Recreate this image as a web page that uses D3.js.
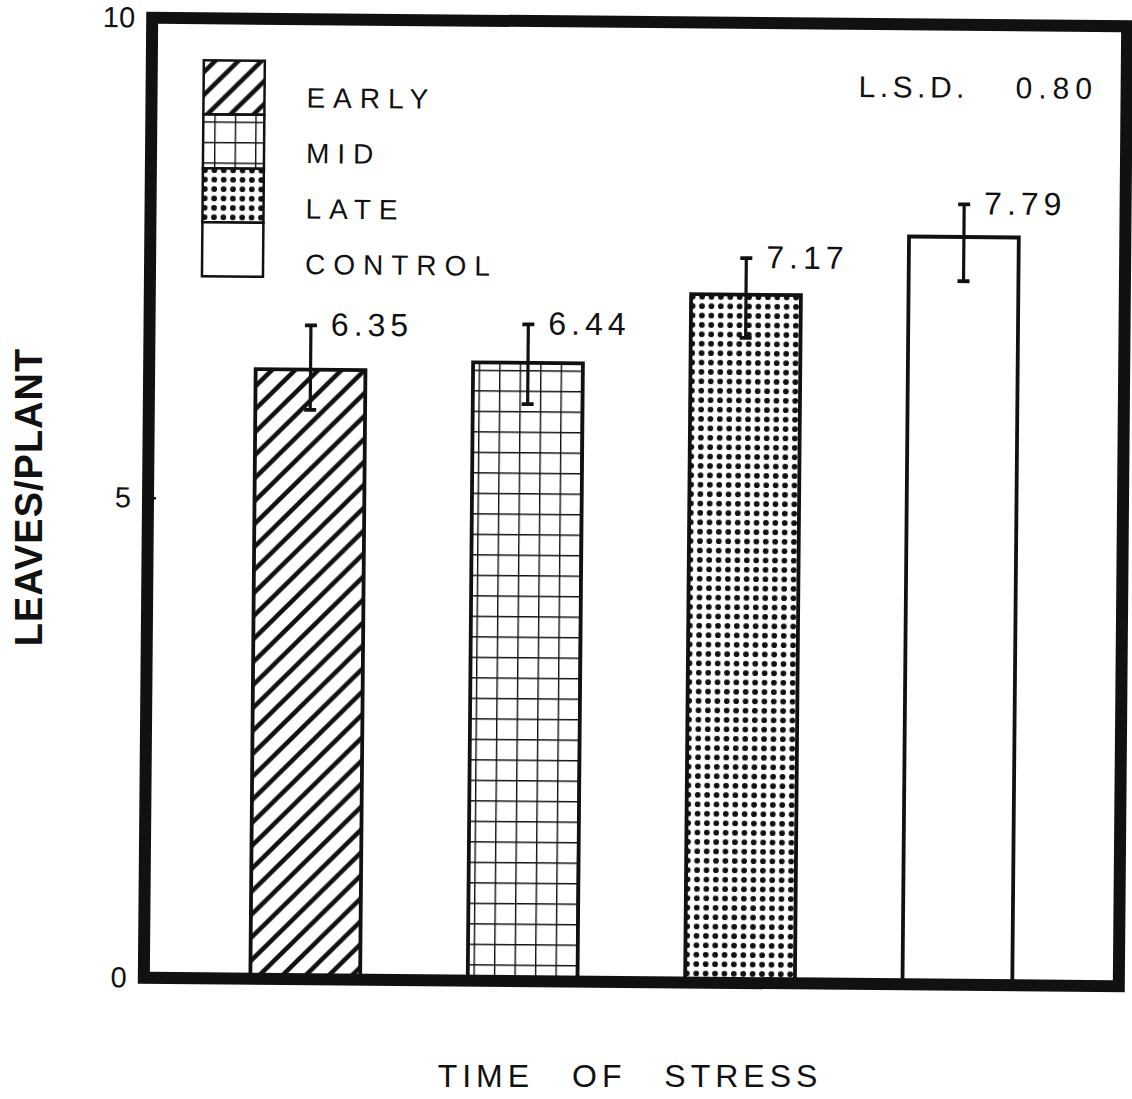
<!DOCTYPE html>
<html>
<head>
<meta charset="utf-8">
<script src="https://cdn.jsdelivr.net/npm/d3@7"></script>
<style>
  body { margin: 0; background: #fff; }
  text { font-family: "Liberation Sans", Arial, sans-serif; fill: #111; }
</style>
</head>
<body>
<svg id="chart"></svg>
<script>
// data
const categories = ["EARLY", "MID", "LATE", "CONTROL"];
const values = [6.35, 6.44, 7.17, 7.79];
const errHigh = [6.81, 6.84, 7.55, 8.13];
const errLow = [5.93, 6.01, 6.72, 7.33];
const valueLabels = ["6.35", "6.44", "7.17", "7.79"];
const yTicks = [0, 5, 10];
const lsdText = ["L.S.D.", "0.80"];

const fills = ["url(#hatch)", "url(#grid)", "url(#dots)", "#fff"];
const ink = "#111";

const W = 1132, H = 1099;
const frame = { x0: 148, x1: 1123, y0: 22, y1: 982 };
const tilt = 0.5; // the scan is slightly rotated

const svg = d3.select("#chart").attr("width", W).attr("height", H);
svg.append("rect").attr("width", W).attr("height", H).attr("fill", "#fff");

// fill patterns
const defs = svg.append("defs");
defs.append("pattern")
  .attr("id", "hatch").attr("patternUnits", "userSpaceOnUse")
  .attr("width", 23).attr("height", 23)
  .append("path")
  .attr("d", "M-6,6 L6,-6 M0,23 L23,0 M17,29 L29,17")
  .attr("stroke", ink).attr("stroke-width", 4.5);

defs.append("pattern")
  .attr("id", "grid").attr("patternUnits", "userSpaceOnUse")
  .attr("x", 6).attr("y", 2)
  .attr("width", 20.5).attr("height", 20.5)
  .append("path")
  .attr("d", "M0,0.7 H20.5 M0.7,0 V20.5")
  .attr("stroke", ink).attr("stroke-width", 1.4).attr("fill", "none");

const dots = defs.append("pattern")
  .attr("id", "dots").attr("patternUnits", "userSpaceOnUse")
  .attr("width", 9.4).attr("height", 9.4);
dots.append("rect").attr("width", 9.4).attr("height", 9.4).attr("fill", "#fff");
dots.append("circle").attr("cx", 4.7).attr("cy", 4.7).attr("r", 2.9).attr("fill", ink);

const g = svg.append("g")
  .attr("transform", `rotate(${tilt},${(frame.x0 + frame.x1) / 2},${(frame.y0 + frame.y1) / 2})`);

const xScale = d3.scaleBand()
  .domain(categories)
  .range([frame.x0, frame.x1])
  .paddingInner(0.495)
  .paddingOuter(0.49);

const yScale = d3.scaleLinear().domain([0, 10]).range([frame.y1, frame.y0]);

const data = categories.map((c, i) => ({
  cat: c, v: values[i], hi: errHigh[i], lo: errLow[i], label: valueLabels[i], fill: fills[i]
}));

// bars
g.selectAll("rect.bar")
  .data(data)
  .join("rect")
  .attr("class", "bar")
  .attr("x", d => xScale(d.cat))
  .attr("y", d => yScale(d.v))
  .attr("width", xScale.bandwidth())
  .attr("height", d => yScale(0) - yScale(d.v))
  .attr("fill", d => d.fill)
  .attr("stroke", ink)
  .attr("stroke-width", 3.8);

// error bars
const cx = d => xScale(d.cat) + xScale.bandwidth() / 2;
const eb = g.selectAll("g.err").data(data).join("g").attr("class", "err");
eb.append("line")
  .attr("x1", cx).attr("x2", cx)
  .attr("y1", d => yScale(d.hi)).attr("y2", d => yScale(d.lo))
  .attr("stroke", ink).attr("stroke-width", 3.2);
eb.selectAll("line.cap")
  .data(d => [d.hi, d.lo].map(v => ({ x: cx(d), v })))
  .join("line")
  .attr("class", "cap")
  .attr("x1", d => d.x - 6).attr("x2", d => d.x + 6)
  .attr("y1", d => yScale(d.v)).attr("y2", d => yScale(d.v))
  .attr("stroke", ink).attr("stroke-width", 3.8);

// value labels
g.selectAll("text.val")
  .data(data)
  .join("text")
  .attr("class", "val")
  .attr("x", d => cx(d) + 20)
  .attr("y", d => yScale(d.hi) + 10)
  .attr("font-size", 32)
  .attr("letter-spacing", 5)
  .text(d => d.label);

// frame
g.append("rect")
  .attr("x", frame.x0).attr("y", frame.y0)
  .attr("width", frame.x1 - frame.x0).attr("height", frame.y1 - frame.y0)
  .attr("fill", "none").attr("stroke", ink).attr("stroke-width", 12);

// y axis
const yAxis = g.append("g")
  .attr("transform", `translate(${frame.x0},0)`)
  .call(d3.axisLeft(yScale).tickValues(yTicks).tickSizeInner(-8).tickSizeOuter(0).tickPadding(17));
yAxis.select(".domain").remove();
yAxis.selectAll(".tick line").attr("stroke", ink).attr("stroke-width", 2.5);
yAxis.selectAll(".tick text")
  .attr("font-size", 29)
  .attr("font-family", "'Liberation Sans', Arial, sans-serif")
  .attr("fill", ink);

// legend
const leg = g.append("g");
const boxTop = 64, boxStep = 54, textTop = 110.5, textStep = 55.5;
leg.selectAll("rect")
  .data(data)
  .join("rect")
  .attr("x", 200).attr("y", (d, i) => boxTop + i * boxStep)
  .attr("width", 61).attr("height", boxStep)
  .attr("fill", d => d.fill)
  .attr("stroke", ink).attr("stroke-width", 2.5);
leg.selectAll("text")
  .data(data)
  .join("text")
  .attr("x", 303).attr("y", (d, i) => textTop + i * textStep)
  .attr("font-size", 28)
  .attr("letter-spacing", 8)
  .text(d => d.cat);

// L.S.D.
g.append("text")
  .attr("x", 855).attr("y", 95)
  .attr("font-size", 30).attr("letter-spacing", 4.5)
  .text(lsdText[0]);
g.append("text")
  .attr("x", 1012).attr("y", 95)
  .attr("font-size", 30).attr("letter-spacing", 6)
  .text(lsdText[1]);

// axis titles
svg.append("text")
  .attr("transform", "translate(42,497) rotate(-90)")
  .attr("text-anchor", "middle")
  .attr("font-size", 38)
  .attr("font-weight", "bold")
  .attr("letter-spacing", 1)
  .text("LEAVES/PLANT");

svg.append("text")
  .attr("x", 630).attr("y", 1087)
  .attr("text-anchor", "middle")
  .attr("font-size", 32)
  .attr("letter-spacing", 5)
  .attr("word-spacing", 24)
  .text("TIME OF STRESS");
</script>
</body>
</html>
